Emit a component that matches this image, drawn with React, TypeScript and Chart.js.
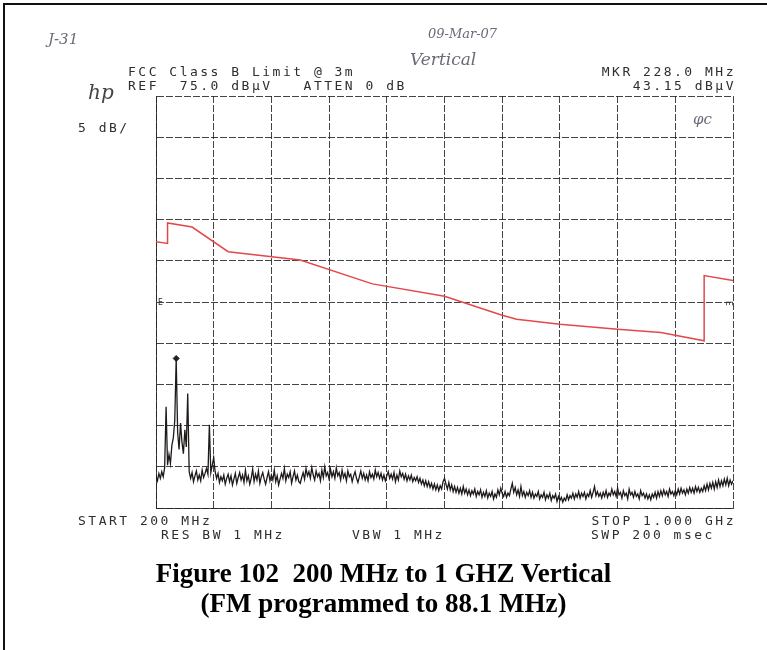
import React, { useEffect, useRef } from "react";
import { Chart, registerables } from "chart.js";

Chart.register(...registerables);

// Sweep settings (HP analyzer)
const START_MHZ = 200;
const STOP_MHZ = 1000;
const SWEEP_STEP_MHZ = 2;
const REF_LEVEL_DBUV = 75;
const DB_PER_DIV = 5;
const BOTTOM_LEVEL_DBUV = 25;
const FREQ_PER_DIV_MHZ = 80;

// FCC Class B limit line @ 3m (as drawn, dBµV)
const limitFreqs = [200, 216, 216, 250, 300, 400, 500, 600, 680, 700, 760, 840, 900, 960, 960, 1000];
const limitLevels = [57.3, 57.1, 59.6, 59.1, 56.1, 55.1, 52.2, 50.7, 48.4, 47.9, 47.3, 46.7, 46.3, 45.3, 53.2, 52.6];

// Marker
const markerFreq = 228.0;
const markerLevel = 43.15;

// Measured trace (dBµV), one value per 2 MHz sweep step from START_MHZ (20 per row = 40 MHz)
const traceLevels = [
  28.9, 28.3, 29.2, 28.6, 29.4, 28.8, 29.9, 37.3, 30.2, 31.5, 30.4, 32.6, 33.5, 35.6, 43.15, 34.2, 32.1, 35.3, 33.0, 31.6,
  34.5, 32.4, 38.9, 29.4, 28.6, 29.3, 28.2, 28.9, 29.5, 28.4, 29.0, 28.3, 29.6, 28.7, 29.2, 29.8, 29.1, 35.1, 29.3, 30.2,
  31.1, 29.4, 28.6, 29.2, 28.1, 28.8, 28.3, 29.0, 27.9, 28.6, 29.1, 28.2, 28.9, 27.8, 28.5, 29.2, 28.0, 28.7, 29.3, 28.4,
  29.0, 28.1, 29.6, 28.3, 28.9, 27.9, 28.6, 29.7, 28.2, 29.1, 28.4, 29.5, 28.0, 28.8, 29.3, 28.5, 27.9, 28.7, 29.4, 28.3,
  29.0, 28.4, 29.6, 28.2, 28.9, 27.8, 28.5, 29.2, 28.6, 29.8, 28.3, 29.1, 28.7, 29.4, 28.0, 28.8, 29.5, 28.4, 29.0, 28.2,
  28.0, 28.7, 29.3, 28.5, 29.8, 28.9, 29.4, 28.6, 29.9, 29.0, 28.4, 29.5, 28.8, 29.2, 28.3, 29.6, 28.7, 30.0, 28.9, 29.3,
  28.5, 29.7, 28.8, 29.4, 28.6, 29.9, 28.9, 29.3, 28.4, 29.6, 28.7, 29.2, 28.3, 29.5, 28.8, 29.1, 28.2, 28.9, 29.4, 28.6,
  28.1, 28.8, 29.5, 28.6, 29.2, 28.4, 29.0, 28.3, 29.4, 28.7, 29.1, 28.5, 29.6, 28.8, 29.3, 28.6, 29.2, 28.4, 29.0, 28.3,
  28.9, 29.4, 28.6, 29.1, 28.5, 29.3, 28.2, 29.0, 28.4, 29.5, 28.8, 29.2, 28.5, 29.1, 28.3, 28.9, 28.4, 29.0, 28.2, 28.7,
  28.3, 28.8, 28.1, 28.6, 27.9, 28.4, 27.7, 28.3, 27.6, 28.2, 27.5, 28.0, 27.3, 27.9, 27.2, 27.8, 27.1, 27.7, 27.3, 28.2,
  28.6, 27.9, 27.3, 28.1, 27.2, 27.8, 27.0, 27.6, 26.9, 27.5, 26.8, 27.4, 26.7, 27.6, 26.8, 27.3, 26.6, 27.2, 26.5, 27.1,
  26.7, 27.3, 26.4, 27.0, 26.6, 27.2, 26.3, 26.9, 26.4, 27.1, 26.2, 26.8, 26.4, 27.0, 26.1, 26.7, 26.3, 27.2, 26.6, 27.4,
  26.8, 26.4, 27.0, 26.3, 26.8, 26.5, 27.3, 28.0, 26.9, 27.5, 26.6, 27.2, 26.4, 27.6, 26.5, 27.0, 26.3, 26.9, 26.5, 27.1,
  26.3, 26.9, 26.2, 26.7, 26.4, 27.0, 26.1, 26.6, 26.3, 26.9, 26.0, 26.6, 26.2, 26.8, 25.9, 26.5, 26.2, 26.7, 25.8, 26.4,
  25.9, 26.3, 25.7, 26.2, 25.9, 26.6, 26.0, 26.5, 26.2, 26.8, 26.1, 26.7, 26.3, 27.0, 26.2, 26.8, 26.4, 26.9, 26.1, 26.7,
  26.4, 27.1, 26.3, 26.9, 27.6, 26.5, 27.0, 26.4, 26.8, 26.2, 26.9, 26.4, 27.1, 26.3, 26.8, 26.5, 27.3, 26.6, 27.0, 26.4,
  27.4, 26.6, 26.9, 26.2, 27.1, 26.5, 26.8, 26.1, 27.3, 26.6, 26.9, 26.3, 27.0, 26.4, 26.7, 26.1, 27.1, 26.5, 26.8, 26.2,
  26.7, 26.1, 26.6, 26.0, 26.7, 26.3, 26.9, 26.2, 27.0, 26.4, 27.1, 26.5, 27.2, 26.6, 27.0, 26.4, 27.3, 26.7, 27.0, 26.5,
  27.1, 26.6, 27.3, 26.7, 27.4, 26.8, 27.2, 26.6, 27.3, 26.8, 27.5, 26.9, 27.4, 26.8, 27.6, 27.0, 27.5, 26.9, 27.4, 27.0,
  27.7, 27.1, 27.9, 27.2, 28.0, 27.4, 28.1, 27.3, 28.2, 27.5, 28.4, 27.6, 28.3, 27.7, 28.5, 27.8, 28.6, 27.7, 28.4, 27.9,
  28.3,
];

const MONO = '"DejaVu Sans Mono", "Liberation Mono", monospace';
const HAND = '"DejaVu Serif", "Liberation Serif", serif';
const INK = "#2e2e2e";
const PENCIL = "#6b6b78";

function txt(left: number | null, top: number, s: string, extra: React.CSSProperties = {}) {
  const st: React.CSSProperties = {
    position: "absolute",
    top,
    font: `13px ${MONO}`,
    letterSpacing: "2.5px",
    color: INK,
    whiteSpace: "pre",
    lineHeight: "13px",
    ...extra,
  };
  if (left !== null) st.left = left;
  return <div style={st}>{s}</div>;
}

export default function App() {
  const ref = useRef<HTMLCanvasElement | null>(null);

  useEffect(() => {
    if (!ref.current) return;
    const limitData = limitFreqs.map((f, i) => ({ x: f, y: limitLevels[i] }));
    const traceData = traceLevels.map((v, i) => ({ x: START_MHZ + i * SWEEP_STEP_MHZ, y: v }));
    const gridColor = "rgba(35,35,35,0.85)";
    const chart = new Chart(ref.current, {
      type: "line",
      data: {
        datasets: [
          {
            label: "Limit",
            data: limitData,
            borderColor: "#e2494b",
            borderWidth: 1.5,
            pointRadius: 0,
            tension: 0,
          },
          {
            label: "Trace",
            data: traceData,
            borderColor: "#1f1a1a",
            borderWidth: 1.3,
            pointRadius: 0,
            tension: 0,
          },
          {
            label: "Marker",
            data: [{ x: markerFreq, y: markerLevel }],
            showLine: false,
            pointStyle: "rectRot",
            pointRadius: 3,
            backgroundColor: "#222",
            borderColor: "#222",
          },
        ],
      },
      options: {
        responsive: false,
        animation: false,
        layout: { padding: { left: 156, top: 96, right: 34, bottom: 142 } },
        plugins: { legend: { display: false }, tooltip: { enabled: false } },
        scales: {
          x: {
            type: "linear",
            min: START_MHZ,
            max: STOP_MHZ,
            ticks: { display: false, stepSize: FREQ_PER_DIV_MHZ },
            grid: { color: gridColor, lineWidth: 1, drawTicks: false },
            border: { display: true, color: gridColor, dash: [7, 2] },
          },
          y: {
            type: "linear",
            min: BOTTOM_LEVEL_DBUV,
            max: REF_LEVEL_DBUV,
            ticks: { display: false, stepSize: DB_PER_DIV },
            grid: { color: gridColor, lineWidth: 1, drawTicks: false },
            border: { display: true, color: gridColor, dash: [7, 2] },
          },
        },
      },
    });
    return () => chart.destroy();
  }, []);

  const caption: React.CSSProperties = {
    position: "absolute",
    left: 0,
    width: 767,
    textAlign: "center",
    font: `bold 27px "Liberation Serif", "Times New Roman", serif`,
    color: "#000",
    whiteSpace: "pre",
    lineHeight: "30px",
  };

  return (
    <div style={{ position: "absolute", left: 0, top: 0, width: 767, height: 650, background: "#fff", overflow: "hidden" }}>
      <div style={{ position: "absolute", left: 3, top: 3, width: 764, height: 647, borderTop: "2px solid #111", borderLeft: "2px solid #111" }} />
      <canvas ref={ref} width={767} height={650} style={{ position: "absolute", left: 0, top: 0, width: 767, height: 650 }} />

      {/* handwriting */}
      <div style={{ position: "absolute", left: 48, top: 30, font: `italic 300 15px ${HAND}`, color: PENCIL }}>J-31</div>
      <div style={{ position: "absolute", left: 428, top: 26, font: `italic 300 13px ${HAND}`, color: PENCIL }}>09-Mar-07</div>
      <div style={{ position: "absolute", left: 410, top: 49, font: `italic 300 17px ${HAND}`, color: PENCIL }}>Vertical</div>
      <div style={{ position: "absolute", left: 88, top: 80, font: `italic 20px ${HAND}`, color: "#444" }}>hp</div>
      <div style={{ position: "absolute", left: 693, top: 110, font: `italic 300 15px ${HAND}`, color: PENCIL }}>φc</div>

      {txt(128, 65, "FCC Class B Limit @ 3m")}
      {txt(128, 79, "REF  75.0 dBµV   ATTEN 0 dB")}
      {txt(null, 65, "MKR 228.0 MHz", { right: 31 })}
      {txt(null, 79, "43.15 dBµV", { right: 31 })}
      {txt(78, 121, "5 dB/")}
      {txt(158, 296, "E", { font: `8px ${MONO}`, letterSpacing: "0px" })}
      {txt(726, 297, "E", { font: `8px ${MONO}`, letterSpacing: "0px", transform: "rotate(90deg)" })}
      {txt(78, 514, "START 200 MHz")}
      {txt(null, 514, "STOP 1.000 GHz", { right: 31 })}
      {txt(161, 528, "RES BW 1 MHz")}
      {txt(352, 528, "VBW 1 MHz")}
      {txt(591, 528, "SWP 200 msec")}

      <div style={{ ...caption, top: 558 }}>{"Figure 102  200 MHz to 1 GHZ Vertical"}</div>
      <div style={{ ...caption, top: 588 }}>{"(FM programmed to 88.1 MHz)"}</div>
    </div>
  );
}
